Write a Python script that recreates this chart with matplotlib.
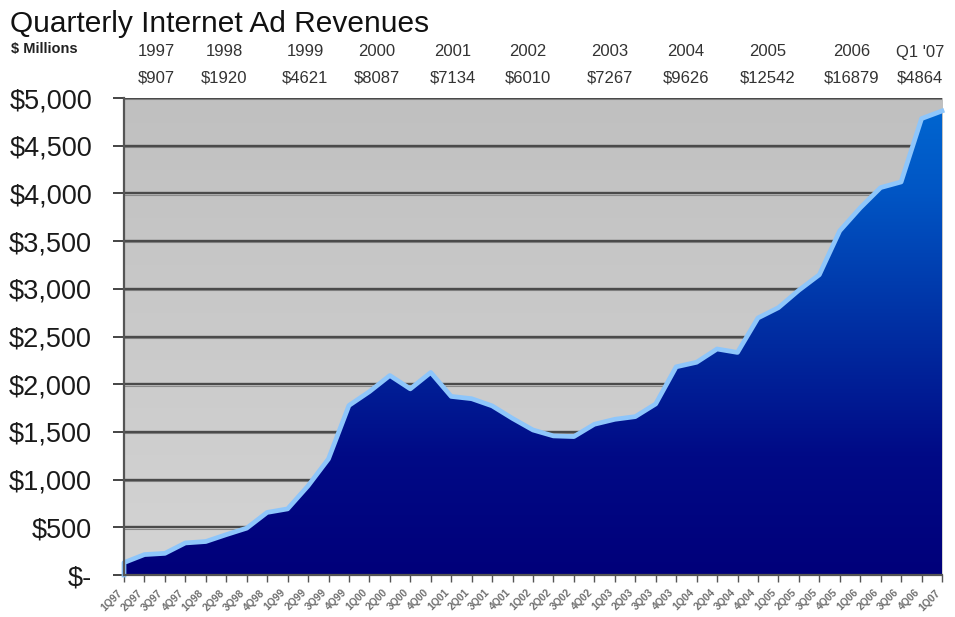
import numpy as np
import matplotlib
matplotlib.use("Agg")
import matplotlib.pyplot as plt
from matplotlib.colors import LinearSegmentedColormap
from matplotlib.patches import Polygon

plt.rcParams['font.family'] = ['Liberation Sans', 'DejaVu Sans']

# QUARTERLY REVENUE ($ MILLIONS), 1Q97 .. 1Q07
quarter_labels = ["1Q97", "2Q97", "3Q97", "4Q97", "1Q98", "2Q98", "3Q98", "4Q98",
                  "1Q99", "2Q99", "3Q99", "4Q99", "1Q00", "2Q00", "3Q00", "4Q00",
                  "1Q01", "2Q01", "3Q01", "4Q01", "1Q02", "2Q02", "3Q02", "4Q02",
                  "1Q03", "2Q03", "3Q03", "4Q03", "1Q04", "2Q04", "3Q04", "4Q04",
                  "1Q05", "2Q05", "3Q05", "4Q05", "1Q06", "2Q06", "3Q06", "4Q06",
                  "1Q07"]
revenue = [130, 214, 227, 336, 351, 423, 491, 656,
           693, 934, 1217, 1777, 1922, 2091, 1951, 2123,
           1872, 1848, 1773, 1641, 1520, 1458, 1451, 1580,
           1632, 1660, 1793, 2182, 2230, 2369, 2333, 2694,
           2802, 2985, 3147, 3608, 3848, 4061, 4120, 4784,
           4864]

# YEAR TOTALS SHOWN ABOVE THE CHART
year_labels = ["1997", "1998", "1999", "2000", "2001", "2002",
               "2003", "2004", "2005", "2006", "Q1 '07"]
year_totals = ["$907", "$1920", "$4621", "$8087", "$7134", "$6010",
               "$7267", "$9626", "$12542", "$16879", "$4864"]
year_label_x = [156, 224, 305, 377, 453, 528, 610, 686, 768, 852, 920]

y_ticks = [0, 500, 1000, 1500, 2000, 2500, 3000, 3500, 4000, 4500, 5000]
y_tick_labels = ["$-", "$500", "$1,000", "$1,500", "$2,000", "$2,500",
                 "$3,000", "$3,500", "$4,000", "$4,500", "$5,000"]

W, H = 955, 617
fig = plt.figure(figsize=(W / 100, H / 100), dpi=100)
ax = fig.add_axes([124 / W, 1 - 575 / H, (942 - 124) / W, (575 - 98) / H])

x = np.arange(len(revenue))
ax.set_xlim(0, len(revenue) - 1)
ax.set_ylim(0, 5000)

# GRAY PLOT BACKGROUND (SLIGHT VERTICAL GRADIENT)
bg_cmap = LinearSegmentedColormap.from_list("bg", ["#d4d4d4", "#c0c0c0"])
ax.imshow(np.linspace(0, 1, 256).reshape(-1, 1), cmap=bg_cmap, origin="lower",
          extent=[0, len(revenue) - 1, 0, 5000], aspect="auto", zorder=0.1)

# GRIDLINES
for yv in y_ticks[1:]:
    ax.axhline(yv, color="#4a4a4a", lw=1.7, zorder=0.6)
    ax.axhline(yv - 14, color="#8a8a8a", lw=0.8, zorder=0.55)

# AREA WITH BLUE GRADIENT
verts = [(0, 0)] + list(zip(x, revenue)) + [(x[-1], 0)]
poly = Polygon(verts, closed=True, facecolor="none", edgecolor="none")
ax.add_patch(poly)
area_cmap = LinearSegmentedColormap.from_list(
    "area", [(0.0, "#00007a"), (0.25, "#000a86"), (0.55, "#0033a6"),
             (0.8, "#0055c4"), (1.0, "#0068d2")])
img = ax.imshow(np.linspace(0, 1, 256).reshape(-1, 1), cmap=area_cmap, origin="lower",
                extent=[0, len(revenue) - 1, 0, 5000], aspect="auto", zorder=2)
img.set_clip_path(poly)

# LIGHT BLUE OUTLINE
ax.plot([0] + list(x), [0] + revenue, color="#8ec6fb", lw=3.4, zorder=3,
        solid_joinstyle="round", clip_on=False)

# AXES STYLE
for s in ["top", "right"]:
    ax.spines[s].set_visible(False)
ax.spines["left"].set_color("#555555")
ax.spines["left"].set_linewidth(1.6)
ax.spines["bottom"].set_color("#555555")
ax.spines["bottom"].set_linewidth(1.6)
ax.spines["left"].set_zorder(4)
ax.spines["bottom"].set_zorder(4)

ax.set_yticks(y_ticks)
ax.set_yticklabels(y_tick_labels, fontsize=19.5, color="#1a1a1a")
ax.tick_params(axis="y", direction="out", length=8, width=1.4, color="#444444", pad=15)

ax.set_xticks(x)
ax.set_xticklabels(quarter_labels, rotation=45, ha="right", fontsize=7.5,
                   fontweight="bold", color="#707070")
ax.tick_params(axis="x", direction="out", length=5, width=1.0, color="#555555", pad=4)

# TITLE AND HEADER TEXT
fig.text(10 / W, 1 - 32 / H, "Quarterly Internet Ad Revenues", fontsize=21.5, color="#111111")
fig.text(11 / W, 1 - 53 / H, "$ Millions", fontsize=10.5, fontweight="bold", color="#222222")
for xl, yl, tot in zip(year_label_x, year_labels, year_totals):
    fig.text(xl / W, 1 - 52 / H, yl, fontsize=12, color="#333333", ha="center", va="center")
    fig.text(xl / W, 1 - 78 / H, tot, fontsize=12, color="#333333", ha="center", va="center")

fig.savefig("out.png", dpi=100)
